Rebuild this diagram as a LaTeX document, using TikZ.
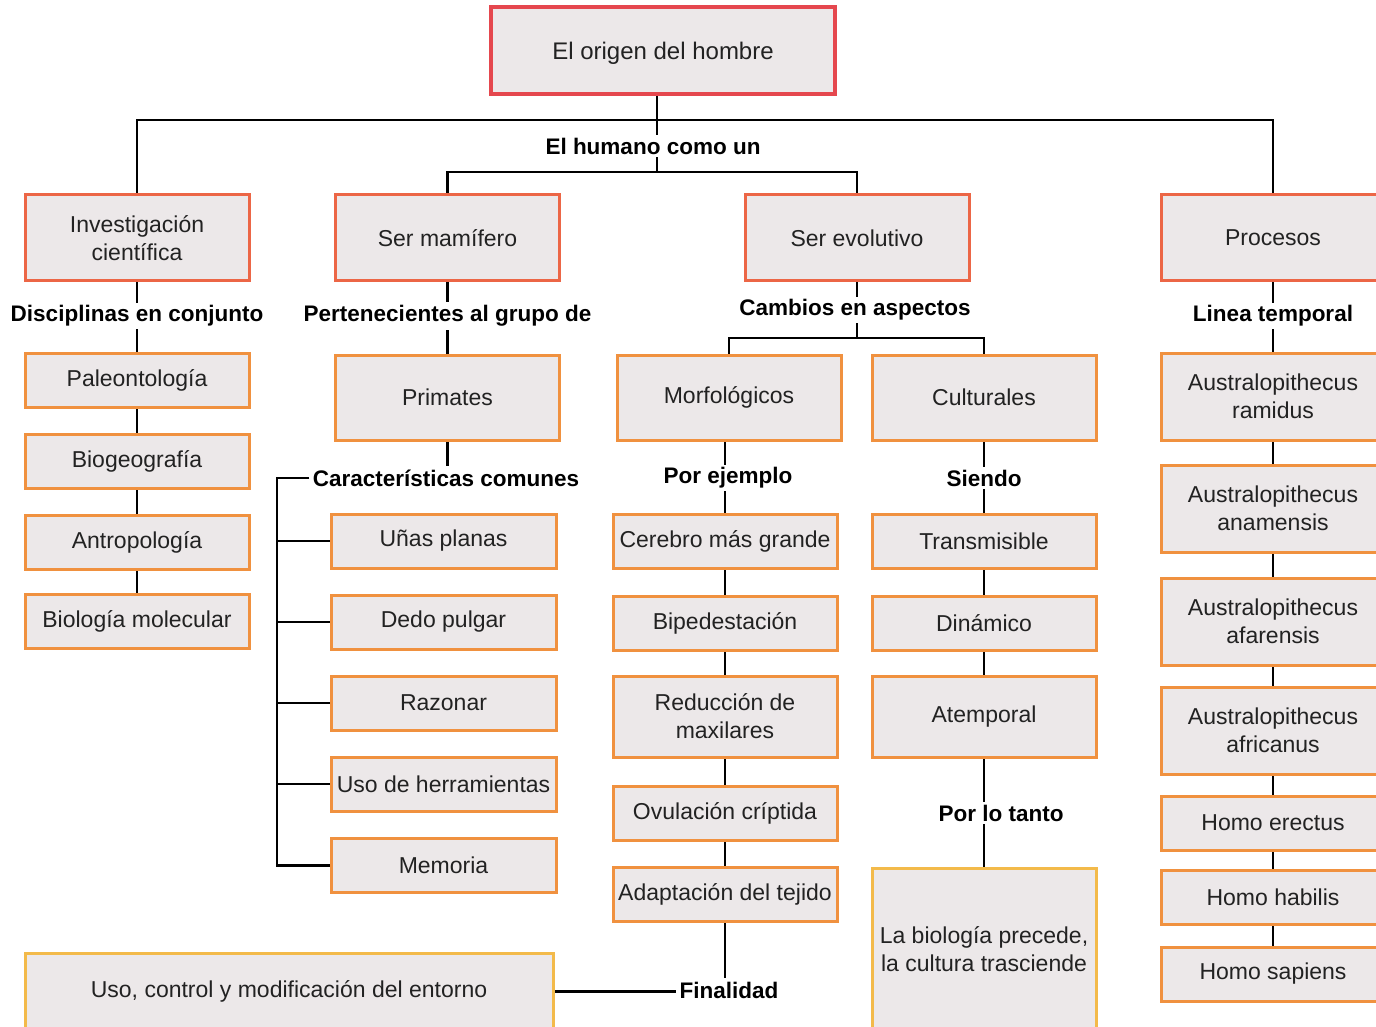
\documentclass[tikz,border=0pt]{standalone}
\usepackage{fontspec}
\setmainfont{Liberation Sans}
\usetikzlibrary{positioning, backgrounds}
\definecolor{originred}{HTML}{E5474E}
\definecolor{mainred}{HTML}{EC6646}
\definecolor{suborange}{HTML}{F0913F}
\definecolor{endyellow}{HTML}{F3BA4A}
\definecolor{boxfill}{HTML}{ECE8E9}
\definecolor{boxtext}{HTML}{222222}

\begin{document}
\begin{tikzpicture}[
    x=0.5pt, y=-0.5pt,
    concept/.style={draw=#1, fill=boxfill, line width=1.5pt, minimum width=112pt, minimum height=27pt, inner sep=2pt, align=center, font=\fontsize{11.5}{14}\selectfont, text=boxtext},
    tag/.style={fill=white, inner sep=1.5pt, font=\bfseries\fontsize{11.25}{13}\selectfont, text=black},
    link/.style={line width=1.25pt, color=black},
]
\useasboundingbox (0,0) rectangle (1376,1027);
\clip (0,0) rectangle (1376,1027);

% Root
\node[concept=originred, line width=1.75pt, minimum width=172pt, minimum height=43.5pt, text depth=0pt, font=\fontsize{12}{14}\selectfont] (origen) at (663,50.5) {El origen del hombre};
\coordinate (hub) at (657,120);
\coordinate (hubtwo) at (657,172);
\node[tag] (humano) at (653,146) {El humano como un};

% Main topics
\node[concept=mainred, minimum height=43pt] (invest) at (137,238) {Investigación\\científica};
\node[concept=mainred, minimum height=43pt] (mamifero) at (447.5,238) {Ser mamífero};
\node[concept=mainred, minimum height=43pt] (evolutivo) at (857,238) {Ser evolutivo};
\node[concept=mainred, minimum height=43pt] (procesos) at (1273,238) {Procesos};

% Column labels
\node[tag] (disc) at (137,316) {Disciplinas en conjunto};
\node[tag] (perten) at (447.5,316) {Pertenecientes al grupo de};
\node[tag] (cambios) at (855,310) {Cambios en aspectos};
\node[tag] (linea) at (1273,316) {Linea temporal};

% Disciplines
\node[concept=suborange] (paleo) at (137,380) {Paleontología};
\node[concept=suborange] (biogeo) at (137,461) {Biogeografía};
\node[concept=suborange] (antro) at (137,542) {Antropología};
\node[concept=suborange] (biomol) at (137,621) {Biología molecular};

% Mammal branch
\node[concept=suborange, minimum height=42.5pt] (primates) at (447.5,397.5) {Primates};
\node[tag] (caract) at (446,478) {Características comunes};
\coordinate (spine) at (277,478);
\node[concept=suborange, minimum width=112.5pt] (unas) at (443.5,541) {Uñas planas};
\node[concept=suborange, minimum width=112.5pt] (dedo) at (443.5,622) {Dedo pulgar};
\node[concept=suborange, minimum width=112.5pt] (razonar) at (443.5,703) {Razonar};
\node[concept=suborange, minimum width=112.5pt] (herram) at (443.5,784) {Uso de herramientas};
\node[concept=suborange, minimum width=112.5pt] (memoria) at (443.5,865.5) {Memoria};

% Evolution branch
\coordinate (hubthree) at (857,338);
\node[concept=suborange, minimum height=42.5pt] (morfo) at (729,397.5) {Morfológicos};
\node[concept=suborange, minimum height=42.5pt] (cultu) at (984,397.5) {Culturales};
\node[tag] (ejemplo) at (728,478) {Por ejemplo};
\node[tag] (siendo) at (984,478) {Siendo};

\node[concept=suborange] (cerebro) at (725,541) {Cerebro más grande};
\node[concept=suborange] (biped) at (725,623) {Bipedestación};
\node[concept=suborange, minimum height=40.5pt] (maxilar) at (725,716.5) {Reducción de\\maxilares};
\node[concept=suborange] (ovula) at (725,813) {Ovulación críptida};
\node[concept=suborange] (tejido) at (725,894) {Adaptación del tejido};
\node[tag] (final) at (729,990) {Finalidad};
\node[concept=endyellow, minimum width=264pt, minimum height=38.5pt] (entorno) at (289,991.5) {Uso, control y modificación del entorno};

\node[concept=suborange] (transm) at (984,541) {Transmisible};
\node[concept=suborange] (dinam) at (984,623) {Dinámico};
\node[concept=suborange, minimum height=40.5pt] (atemp) at (984,716.5) {Atemporal};
\node[tag] (tanto) at (1001,813) {Por lo tanto};
\node[concept=endyellow, minimum height=81pt] (precede) at (984,949) {La biología precede,\\la cultura trasciende};

% Timeline
\node[concept=suborange, minimum height=43.5pt] (ramidus) at (1273,396.5) {Australopithecus\\ramidus};
\node[concept=suborange, minimum height=43.5pt] (anamen) at (1273,508.5) {Australopithecus\\anamensis};
\node[concept=suborange, minimum height=43.5pt] (afaren) at (1273,621.5) {Australopithecus\\afarensis};
\node[concept=suborange, minimum height=43.5pt] (african) at (1273,730.5) {Australopithecus\\africanus};
\node[concept=suborange] (erectus) at (1273,823) {Homo erectus};
\node[concept=suborange] (habilis) at (1273,897) {Homo habilis};
\node[concept=suborange] (sapiens) at (1273,974) {Homo sapiens};

% Connectors
\begin{scope}[on background layer]
\draw[link] (hub |- origen.south) -- (hubtwo);
\draw[link] (invest.north) |- (hub) -| (procesos.north);
\draw[link] (mamifero.north) |- (hubtwo) -| (evolutivo.north);

\draw[link] (invest) -- (paleo);
\draw[link] (paleo) -- (biogeo);
\draw[link] (biogeo) -- (antro);
\draw[link] (antro) -- (biomol);

\draw[link] (mamifero) -- (primates);
\draw[link] (primates.south) -- (primates.south |- caract.north);
\draw[link] (caract.west) -- (spine) |- (memoria.west);
\foreach \n in {unas,dedo,razonar,herram}
  \draw[link] (\n.west) -- (\n.west -| spine);

\draw[link] (evolutivo) -- (hubthree);
\draw[link] (morfo.north) |- (hubthree) -| (cultu.north);
\draw[link] (cerebro.north |- morfo.south) -- (cerebro.north);
\draw[link] (cerebro) -- (biped);
\draw[link] (biped) -- (maxilar);
\draw[link] (maxilar) -- (ovula);
\draw[link] (ovula) -- (tejido);
\draw[link] (tejido.south) -- (tejido.south |- final.north);
\draw[link] (entorno.east) -- (entorno.east -| final.west);

\draw[link] (cultu) -- (transm);
\draw[link] (transm) -- (dinam);
\draw[link] (dinam) -- (atemp);
\draw[link] (atemp.south) -- (atemp.south |- precede.north);

\draw[link] (procesos) -- (ramidus);
\draw[link] (ramidus) -- (anamen);
\draw[link] (anamen) -- (afaren);
\draw[link] (afaren) -- (african);
\draw[link] (african) -- (erectus);
\draw[link] (erectus) -- (habilis);
\draw[link] (habilis) -- (sapiens);
\end{scope}

\end{tikzpicture}
\end{document}
